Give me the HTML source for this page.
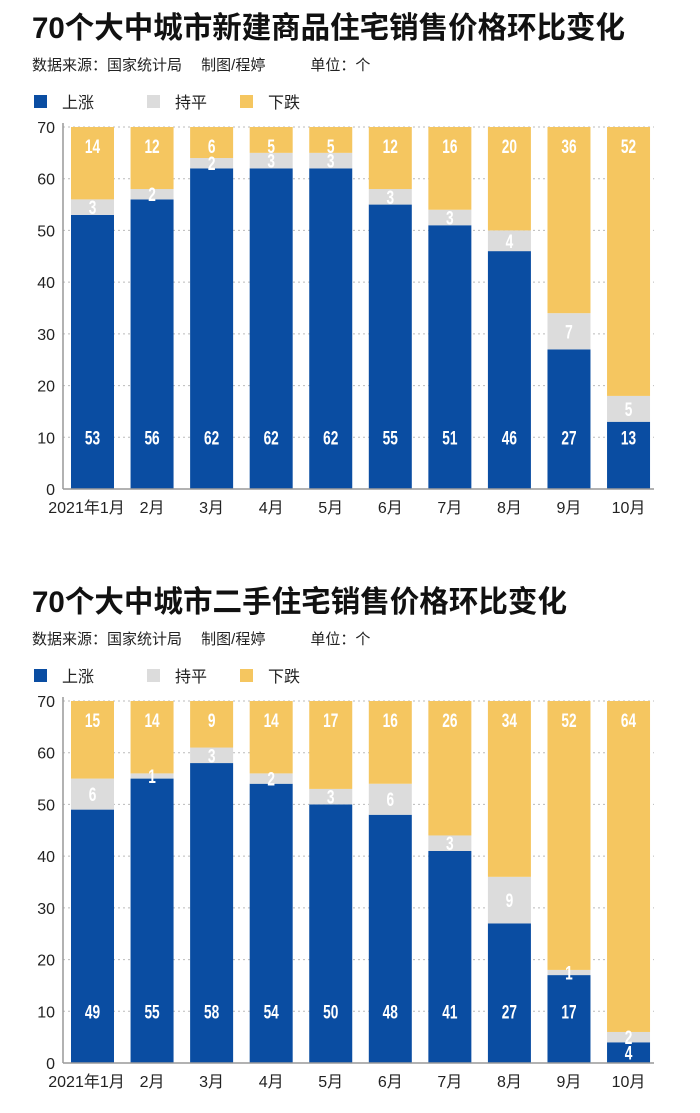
<!DOCTYPE html>
<html><head><meta charset="utf-8">
<style>
body{margin:0;background:#fff;width:700px;height:1108px;overflow:hidden;font-family:"Liberation Sans","Noto Sans CJK SC",sans-serif}
svg text{font-family:"Liberation Sans","Noto Sans CJK SC",sans-serif}
</style></head>
<body>
<svg id="svg" width="700" height="1108" xmlns="http://www.w3.org/2000/svg"></svg>
<script>
const months = ["2021年1月","2月","3月","4月","5月","6月","7月","8月","9月","10月"];
const yTicks = [0,10,20,30,40,50,60,70];
const upNew = [53,56,62,62,62,55,51,46,27,13];
const flatNew = [3,2,2,3,3,3,3,4,7,5];
const downNew = [14,12,6,5,5,12,16,20,36,52];
const upUsed = [49,55,58,54,50,48,41,27,17,4];
const flatUsed = [6,1,3,2,3,6,3,9,1,2];
const downUsed = [15,14,9,14,17,16,26,34,52,64];

const NS="http://www.w3.org/2000/svg";
const svg=document.getElementById('svg');
function el(tag,attrs,parent,txt){const e=document.createElementNS(NS,tag);for(const k in attrs)e.setAttribute(k,attrs[k]);if(txt!=null)e.textContent=txt;(parent||svg).appendChild(e);return e;}
const C={up:"#0a4da2",flat:"#dcdcdc",down:"#f5c660"};

function chart(top,title,tlen,up,flat,down,key){
  const g=el('g',{});
  
  
  const t=el('text',{x:32,y:top+15,'font-size':30,'font-weight':'bold',fill:'#111',textLength:tlen,lengthAdjust:'spacingAndGlyphs'},g,title);
  
  const s=el('text',{x:32,y:top+47,'font-size':15,fill:'#222'},g,"数据来源：国家统计局　  制图/程婷　　　单位：个");
  
  const leg=[["上涨",C.up,34],["持平",C.flat,147],["下跌",C.down,240]];
  leg.forEach(l=>{
    const lg=el('g',{},g);
    
    el('rect',{x:l[2],y:top+72,width:13,height:13,fill:l[1]},lg);
    el('text',{x:l[2]+28,y:top+85,'font-size':16,fill:'#222'},lg,l[0]);
  });
  const y0=top+466, y70=top+104, x0=63, xR=654;
  const ys=v=>y0-(v/70)*(y0-y70);
  const xs=i=>71+i*59.56;
  const bw=43;
  yTicks.forEach(v=>{
    if(v>0){const gl=el('line',{x1:x0,x2:xR,y1:ys(v),y2:ys(v),stroke:'#bbb','stroke-dasharray':'2,3'},g);
      }
    const tl=el('text',{x:55,y:ys(v)+6,'font-size':16,fill:'#222','text-anchor':'end'},g,v);
    
  });
  months.forEach((m,i)=>{
    const x=xs(i);
    const segs=[[0,up[i],C.up],[up[i],up[i]+flat[i],C.flat],[up[i]+flat[i],up[i]+flat[i]+down[i],C.down]];
    const names=['up','flat','down'];
    segs.forEach((sg,j)=>{
      const r=el('rect',{x:x,y:ys(sg[1]),width:bw,height:ys(sg[0])-ys(sg[1]),fill:sg[2]},g);
      
      
    });
    const lab=(v,y)=>{const tt=el('text',{x:x+bw/2,y:y,'font-size':19,'font-weight':'bold',fill:'#fff','text-anchor':'middle','font-family':'"DejaVu Sans Condensed","Liberation Sans Narrow",sans-serif',transform:`translate(${x+bw/2},0) scale(0.72,1) translate(${-(x+bw/2)},0)`},g,v);
      };
    lab(up[i], up[i]>=10?ys(10)+7:ys(up[i]/2)+7);
    lab(flat[i], ys(up[i]+flat[i]/2)+7);
    lab(down[i], ys(70)+26);
    const ml=el('text',{x:i==0?x+bw/2-6:x+bw/2,y:y0+24,'font-size':16,fill:'#222','text-anchor':'middle'},g,m);
    
  });
  el('line',{x1:x0,x2:x0,y1:y70-4,y2:y0,stroke:'#999','stroke-width':1.5},g);
  el('line',{x1:x0,x2:xR,y1:y0,y2:y0,stroke:'#999','stroke-width':1.5},g);
}
chart(23,"70个大中城市新建商品住宅销售价格环比变化",593,upNew,flatNew,downNew,'new-home');
chart(597,"70个大中城市二手住宅销售价格环比变化",535,upUsed,flatUsed,downUsed,'used-home');
</script>
</body></html>
